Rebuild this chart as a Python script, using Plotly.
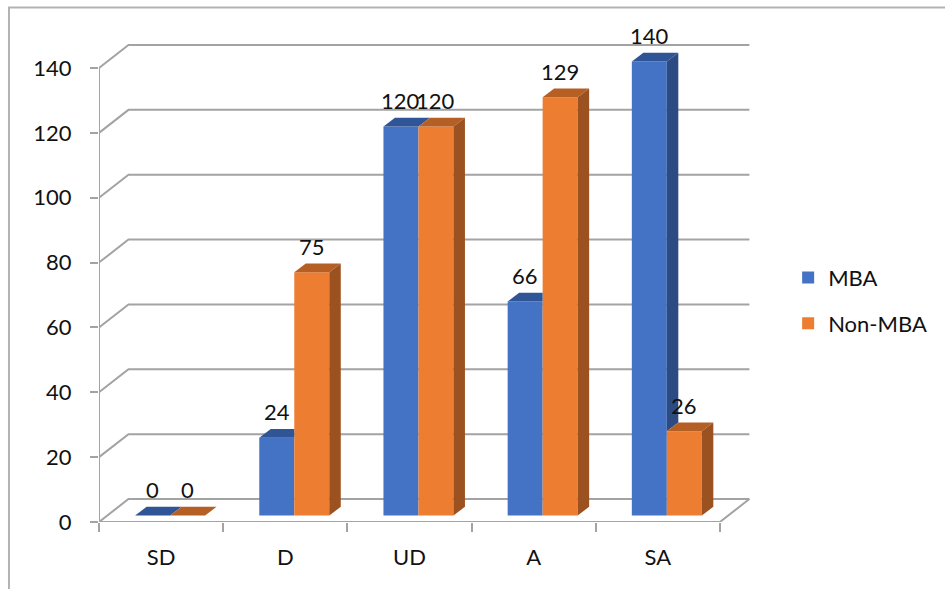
import plotly.graph_objects as go

# Survey responses by group
categories = ["SD", "D", "UD", "A", "SA"]
mba = [0, 24, 120, 66, 140]
non_mba = [0, 75, 120, 129, 26]
y_ticks = [0, 20, 40, 60, 80, 100, 120, 140]

FONT = "Lato"
TEXT = "#111111"
GRID = "#a3a3a3"
BLUE = dict(front="#4472C4", top="#2F5597", side="#2C4B82")
ORANGE = dict(front="#ED7D31", top="#B65F24", side="#9C5120")

# Oblique projection, expressed in axis units (category steps / value units)
WALL_DX, WALL_DY = 0.2375, 7.09    # depth of the back wall
BAR_SHIFT_X, BAR_SHIFT_Y = 0.0725, 2.0  # bars stand slightly behind the floor edge
BAR_DX, BAR_DY = 0.0926, 2.68      # depth of each column
BAR_W = 0.2818                     # width of one column
X_RANGE = [-0.5, 5.0]
Y_RANGE = [0, 151.72]

pos = list(range(len(categories)))
n = len(categories)

fig = go.Figure()

# Front faces of the columns (drawn on the shifted "column plane" axes)
for name, vals, col in [("MBA", mba, BLUE), ("Non-MBA", non_mba, ORANGE)]:
    fig.add_trace(go.Bar(
        x=pos, y=vals, name=name, xaxis="x3", yaxis="y2",
        marker=dict(color=col["front"], line=dict(width=0)),
        legendgroup=name, hovertemplate="%{y}<extra>" + name + "</extra>",
    ))

# Anchor traces for the floor-plane axes
fig.add_trace(go.Scatter(x=[None], y=[None], xaxis="x", yaxis="y",
                         showlegend=False, hoverinfo="skip"))
fig.add_trace(go.Scatter(x=[None], y=[None], xaxis="x2", yaxis="y",
                         showlegend=False, hoverinfo="skip"))

shapes = []

def poly(pts, color, xref="x3", yref="y2", layer="above"):
    path = "M " + " L ".join(f"{x:.4f},{y:.4f}" for x, y in pts) + " Z"
    return dict(type="path", path=path, xref=xref, yref=yref, layer=layer,
                fillcolor=color, line=dict(width=0))

def gline(pts, width=2):
    path = "M " + " L ".join(f"{x:.4f},{y:.4f}" for x, y in pts)
    return dict(type="path", path=path, xref="x", yref="y", layer="below",
                line=dict(color=GRID, width=width))

# Back wall / side wall gridlines
x_left, x_right = -0.5, n - 0.5
for v in y_ticks:
    shapes.append(gline([(x_left, v), (x_left + WALL_DX, v + WALL_DY),
                         (x_right + WALL_DX, v + WALL_DY)]))
# Floor front and right edges, value axis line
shapes.append(gline([(x_left, 0), (x_right, 0), (x_right + WALL_DX, WALL_DY)]))
shapes.append(gline([(x_left, 0), (x_left, y_ticks[-1])]))

# Top and side faces of the columns
annotations = []
for i in pos:
    vb, vo = mba[i], non_mba[i]
    bl, bm, br = i - BAR_W, i, i + BAR_W  # left of MBA, shared edge, right of Non-MBA
    # MBA top face (clipped where the Non-MBA column stands in front of it)
    if vo > vb:
        top_b = [(bl, vb), (bm, vb), (bm, vb + BAR_DY), (bl + BAR_DX, vb + BAR_DY)]
    else:
        top_b = [(bl, vb), (bm, vb), (bm + BAR_DX, vb + BAR_DY), (bl + BAR_DX, vb + BAR_DY)]
    shapes.append(poly(top_b, BLUE["top"]))
    # MBA side face, visible only above the Non-MBA column
    if vb > vo:
        shapes.append(poly([(bm, vo), (bm, vb), (bm + BAR_DX, vb + BAR_DY),
                            (bm + BAR_DX, vo + BAR_DY)], BLUE["side"]))
    # Non-MBA top and side faces
    shapes.append(poly([(bm, vo), (br, vo), (br + BAR_DX, vo + BAR_DY),
                        (bm + BAR_DX, vo + BAR_DY)], ORANGE["top"]))
    shapes.append(poly([(br, 0), (br, vo), (br + BAR_DX, vo + BAR_DY),
                        (br + BAR_DX, BAR_DY)], ORANGE["side"]))
    # Value labels
    for xc, v in [(i - BAR_W / 2, vb), (i + BAR_W / 2, vo)]:
        annotations.append(dict(x=xc, y=v, xref="x3", yref="y2", text=str(v),
                                showarrow=False, yshift=26, yanchor="middle",
                                font=dict(family=FONT, size=22, color=TEXT)))

# Outer chart border (top and left edges)
shapes.append(dict(type="path", xref="paper", yref="paper",
                   path="M -0.1318,-0.3 L -0.1318,1.0457 L 1.4,1.0457",
                   line=dict(color="#b3b3b3", width=2)))

fig.update_layout(
    width=945, height=589,
    margin=dict(l=99, r=163, t=30, b=67),
    plot_bgcolor="white", paper_bgcolor="white",
    font=dict(family=FONT, size=22, color=TEXT),
    barmode="group", bargap=1 - 2 * BAR_W, bargroupgap=0,
    shapes=shapes, annotations=annotations,
    showlegend=True,
    legend=dict(x=1.009, y=0.539, xanchor="left", yanchor="top",
                traceorder="grouped", tracegroupgap=14,
                font=dict(family=FONT, size=22, color=TEXT),
                bgcolor="rgba(0,0,0,0)"),
    xaxis=dict(range=X_RANGE, tickmode="array", tickvals=pos, ticktext=categories,
               ticks="", showgrid=False, zeroline=False, showline=False,
               ticklabelstandoff=20, fixedrange=True),
    xaxis2=dict(overlaying="x", anchor="y", side="bottom", range=X_RANGE,
                tickmode="array", tickvals=[p - 0.5 for p in pos] + [n - 0.5],
                ticks="outside", ticklen=9, tickwidth=2, tickcolor=GRID,
                showticklabels=False, showgrid=False, zeroline=False, showline=False),
    xaxis3=dict(overlaying="x", anchor="y2", visible=False,
                range=[X_RANGE[0] - BAR_SHIFT_X, X_RANGE[1] - BAR_SHIFT_X]),
    yaxis=dict(range=Y_RANGE, tickmode="array", tickvals=y_ticks,
               ticks="outside", ticklen=8, tickwidth=2, tickcolor=GRID,
               showgrid=False, zeroline=False, showline=False,
               ticklabelstandoff=14, fixedrange=True),
    yaxis2=dict(overlaying="y", anchor="x3", visible=False,
                range=[Y_RANGE[0] - BAR_SHIFT_Y, Y_RANGE[1] - BAR_SHIFT_Y]),
)

fig.write_html("out.html")
